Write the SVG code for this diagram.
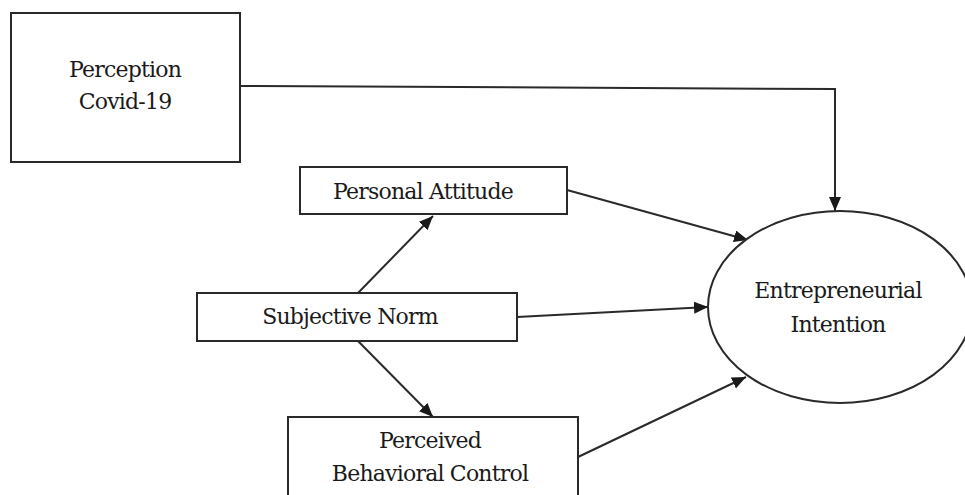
<svg xmlns="http://www.w3.org/2000/svg" width="965" height="495" viewBox="0 0 965 495">
<style>
.box{fill:#fff;stroke:#2a2a2a;stroke-width:2}
.t{font-family:'DejaVu Serif','Liberation Serif',serif;font-size:22px;fill:#1a1a1a;text-anchor:middle;letter-spacing:-0.8px}
.c{fill:none;stroke:#2a2a2a;stroke-width:2}
</style>
<defs>
<marker id="ah" viewBox="0 0 14 12" refX="14" refY="6" markerWidth="14" markerHeight="12" markerUnits="userSpaceOnUse" orient="auto">
<path d="M0,0 L14,6 L0,12 z" fill="#1a1a1a"/>
</marker>
</defs>
<rect width="965" height="495" fill="#fff"/>
<g id="connectors">
<polyline class="c" points="240,86 835,89 835,211" marker-end="url(#ah)"/>
<line class="c" x1="567" y1="190" x2="748" y2="240" marker-end="url(#ah)"/>
<line class="c" x1="517" y1="317" x2="708" y2="307" marker-end="url(#ah)"/>
<line class="c" x1="578" y1="457" x2="746" y2="377" marker-end="url(#ah)"/>
<line class="c" x1="358" y1="293" x2="433" y2="216" marker-end="url(#ah)"/>
<line class="c" x1="358" y1="341" x2="433" y2="417" marker-end="url(#ah)"/>
</g>
<g id="perception">
<rect class="box" x="11" y="13" width="229" height="149"/>
<text class="t" x="125" y="77">Perception</text>
<text class="t" x="125" y="109">Covid-19</text>
</g>
<g id="personal-attitude">
<rect class="box" x="300" y="167" width="267" height="47"/>
<text class="t" x="423" y="199">Personal Attitude</text>
</g>
<g id="subjective-norm">
<rect class="box" x="197" y="293" width="320" height="48"/>
<text class="t" x="350" y="324">Subjective Norm</text>
</g>
<g id="pbc">
<rect class="box" x="288" y="417" width="290" height="90"/>
<text class="t" x="430" y="448">Perceived</text>
<text class="t" x="430" y="481">Behavioral Control</text>
</g>
<g id="intention">
<ellipse class="box" cx="840" cy="307" rx="132" ry="96"/>
<text class="t" x="838" y="298">Entrepreneurial</text>
<text class="t" x="838" y="332">Intention</text>
</g>
</svg>
